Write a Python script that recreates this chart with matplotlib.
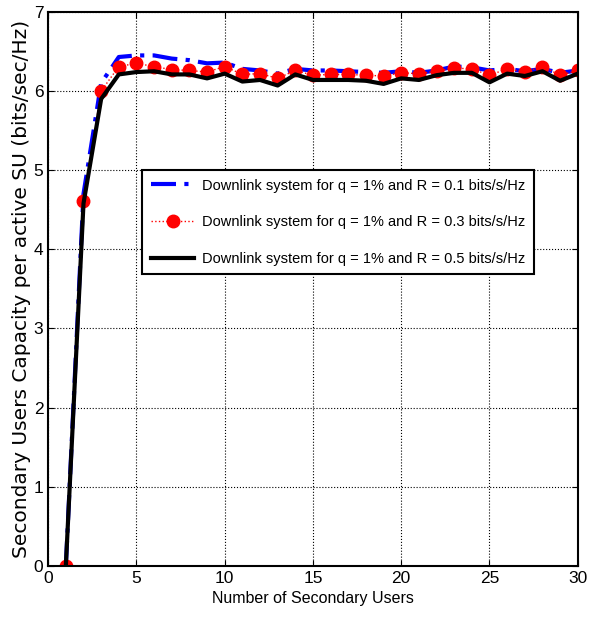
import matplotlib.pyplot as plt
import numpy as np

plt.rcParams['font.family'] = ['Liberation Sans', 'DejaVu Sans']

users = np.arange(1, 31)
cap_r01 = [0.0, 4.70, 6.10, 6.43, 6.45, 6.45, 6.41, 6.39, 6.35, 6.36,
           6.28, 6.26, 6.22, 6.28, 6.26, 6.26, 6.25, 6.24, 6.23, 6.25,
           6.23, 6.26, 6.31, 6.30, 6.26, 6.28, 6.25, 6.28, 6.23, 6.26]
cap_r03 = [0.0, 4.61, 6.00, 6.31, 6.35, 6.31, 6.27, 6.26, 6.24, 6.31,
           6.21, 6.22, 6.16, 6.26, 6.20, 6.21, 6.21, 6.20, 6.19, 6.23,
           6.22, 6.25, 6.29, 6.28, 6.20, 6.28, 6.24, 6.31, 6.20, 6.26]
cap_r05 = [0.0, 4.58, 5.90, 6.21, 6.24, 6.25, 6.21, 6.21, 6.16, 6.22,
           6.12, 6.14, 6.07, 6.21, 6.14, 6.14, 6.14, 6.13, 6.09, 6.16,
           6.14, 6.20, 6.23, 6.23, 6.11, 6.22, 6.19, 6.25, 6.13, 6.22]

fig = plt.figure(figsize=(5.95, 6.26), dpi=100)
ax = fig.add_axes([0.081, 0.096, 0.890, 0.885])

ax.plot(users, cap_r01, color='blue', lw=3, linestyle=(0, (6, 2, 1, 2)),
        label='Downlink system for q = 1% and R = 0.1 bits/s/Hz')
ax.plot(users, cap_r03, color='red', lw=1, linestyle=':', marker='o', markersize=9,
        label='Downlink system for q = 1% and R = 0.3 bits/s/Hz')
ax.plot(users, cap_r05, color='black', lw=3,
        label='Downlink system for q = 1% and R = 0.5 bits/s/Hz')

ax.set_xlim(0, 30)
ax.set_ylim(0, 7)
ax.set_xticks(range(0, 31, 5))
ax.set_yticks(range(0, 8))
ax.tick_params(direction='in', labelsize=12.5, length=4, top=True, right=True)
ax.grid(True, color='black', linestyle=':', lw=0.8)
for s in ax.spines.values():
    s.set_linewidth(1.5)

ax.set_xlabel('Number of Secondary Users', fontsize=11.5, labelpad=4)
ax.set_ylabel('Secondary Users Capacity per active SU (bits/sec/Hz)', fontsize=14.5,
              family=['DejaVu Sans'], labelpad=2)

leg = ax.legend(loc='upper left', bbox_to_anchor=(0.177, 0.715), fontsize=10.5,
                fancybox=False, framealpha=1, edgecolor='black', handlelength=3.0,
                borderaxespad=0, labelspacing=1.55, handletextpad=0.5, borderpad=0.6)
leg.get_frame().set_linewidth(1.5)

fig.savefig('out.png', dpi=100)
